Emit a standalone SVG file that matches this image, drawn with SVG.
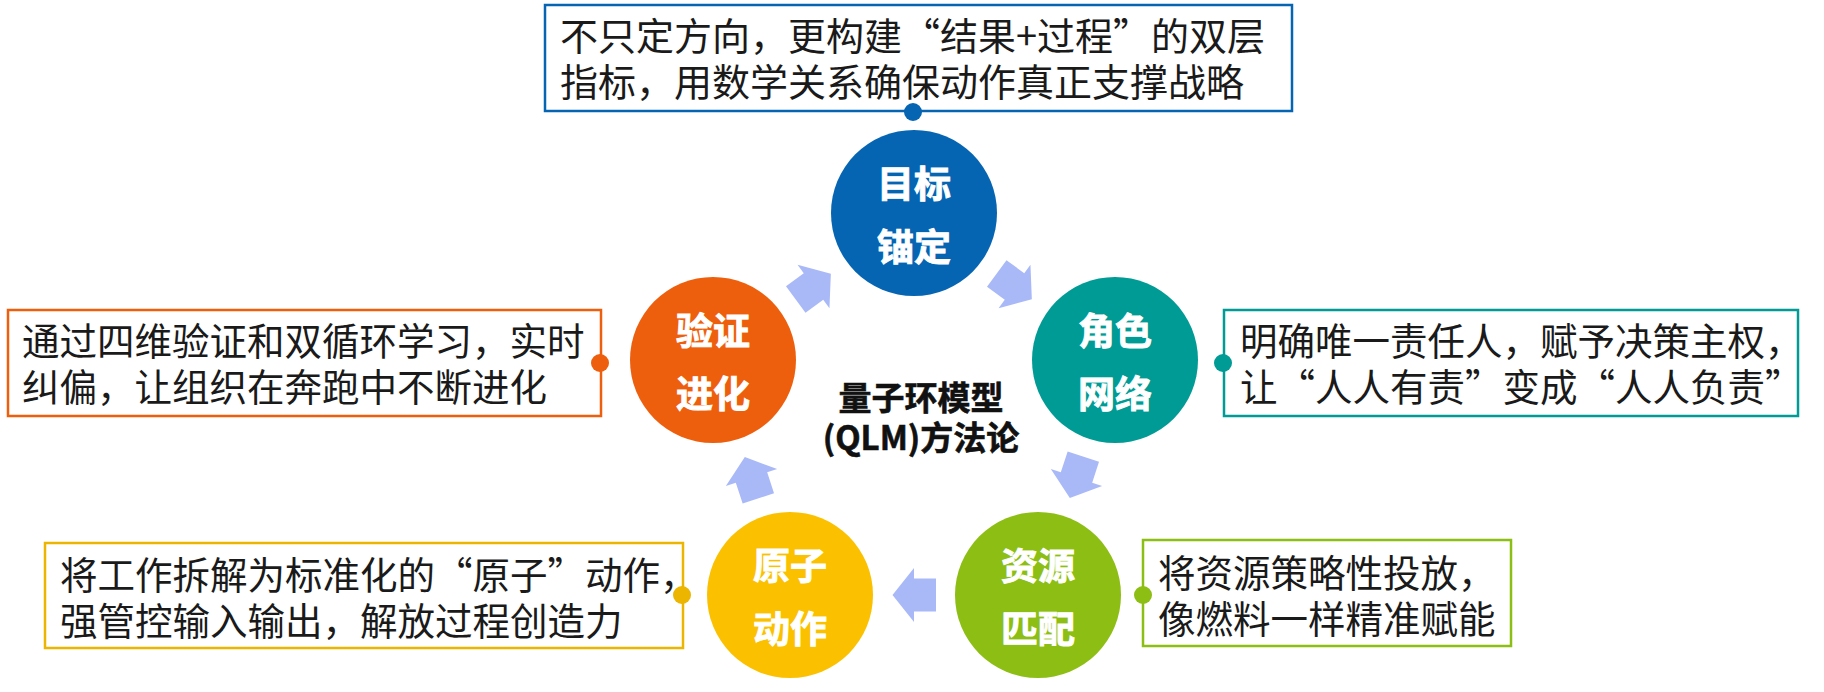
<svg xmlns="http://www.w3.org/2000/svg" width="1824" height="692" viewBox="0 0 1824 692">
<defs>
<style>
.box{fill:#fff;stroke-width:2.5}
.bt{font-family:"Noto Sans CJK SC","Noto Sans",sans-serif;font-size:37.5px;fill:#1a1a1a}
.ct{font-family:"Noto Sans CJK SC","Noto Sans",sans-serif;font-size:37px;font-weight:bold;fill:#fff;stroke:#fff;stroke-width:0.9px;text-anchor:middle}
.mt{font-family:"Noto Sans CJK SC","Noto Sans",sans-serif;font-size:33px;font-weight:bold;fill:#111;stroke:#111;stroke-width:0.6px;text-anchor:middle}
.arr{fill:#A9B9F7}
</style>
<path id="ar" d="M-22,-16.5 L0,-16.5 L0,-27 L21.5,0 L0,27 L0,16.5 L-22,16.5 Z"/>
</defs>
<rect width="1824" height="692" fill="#fff"/>
<g id="connectors" class="arr">
<use href="#ar" transform="translate(1014.5,286.5) rotate(36.2)"/>
<use href="#ar" transform="translate(1076.5,477.5) rotate(108.1)"/>
<use href="#ar" transform="translate(914,595) rotate(180)"/>
<use href="#ar" transform="translate(751.5,477.5) rotate(-108.1)"/>
<use href="#ar" transform="translate(813.5,286.5) rotate(-36.2)"/>
</g>
<g id="center-label">
<text class="mt"><tspan x="921" y="409.5">量子环模型</tspan><tspan x="921" y="449.5">(QLM)方法论</tspan></text>
</g>
<g id="node-goal">
<circle cx="914" cy="213" r="83" fill="#0565B2"/>
<text class="ct"><tspan x="914" y="198">目标</tspan><tspan x="914" y="261">锚定</tspan></text>
</g>
<g id="node-role">
<circle cx="1115" cy="360" r="83" fill="#009B94"/>
<text class="ct"><tspan x="1115" y="345">角色</tspan><tspan x="1115" y="408">网络</tspan></text>
</g>
<g id="node-resource">
<circle cx="1038" cy="595" r="83" fill="#8DBE14"/>
<text class="ct"><tspan x="1038" y="580">资源</tspan><tspan x="1038" y="643">匹配</tspan></text>
</g>
<g id="node-atom">
<circle cx="790" cy="595" r="83" fill="#FBC100"/>
<text class="ct"><tspan x="790" y="580">原子</tspan><tspan x="790" y="643">动作</tspan></text>
</g>
<g id="node-verify">
<circle cx="713" cy="360" r="83" fill="#EE5F0D"/>
<text class="ct"><tspan x="713" y="345">验证</tspan><tspan x="713" y="408">进化</tspan></text>
</g>
<g id="note-goal">
<rect class="box" x="545" y="5" width="747" height="106" stroke="#0565B2"/>
<circle cx="913" cy="112" r="9" fill="#0565B2"/>
<text class="bt" style="font-size:38px"><tspan x="560" y="49.5">不只定方向，更构建“结果+过程”的双层</tspan><tspan x="560" y="95.5">指标，用数学关系确保动作真正支撑战略</tspan></text>
</g>
<g id="note-verify">
<rect class="box" x="8" y="310" width="593" height="106" stroke="#EE5F0D"/>
<circle cx="600" cy="363" r="9" fill="#EE5F0D"/>
<text class="bt"><tspan x="22" y="354.5">通过四维验证和双循环学习，实时</tspan><tspan x="22" y="400.5">纠偏，让组织在奔跑中不断进化</tspan></text>
</g>
<g id="note-role">
<rect class="box" x="1224" y="310" width="574" height="106" stroke="#009B94"/>
<circle cx="1223" cy="363" r="9" fill="#009B94"/>
<text class="bt"><tspan x="1240" y="354.5">明确唯一责任人，赋予决策主权，</tspan><tspan x="1240" y="400.5">让“人人有责”变成“人人负责”</tspan></text>
</g>
<g id="note-atom">
<rect class="box" x="45" y="543" width="638" height="105" stroke="#EBB500"/>
<circle cx="682" cy="595" r="9" fill="#EBB500"/>
<text class="bt"><tspan x="60" y="589">将工作拆解为标准化的“原子”动作，</tspan><tspan x="60" y="635">强管控输入输出，解放过程创造力</tspan></text>
</g>
<g id="note-resource">
<rect class="box" x="1143" y="540" width="368" height="106" stroke="#8DBE14"/>
<circle cx="1143" cy="595" r="9" fill="#8DBE14"/>
<text class="bt"><tspan x="1158" y="587">将资源策略性投放，</tspan><tspan x="1158" y="633">像燃料一样精准赋能</tspan></text>
</g>
</svg>
